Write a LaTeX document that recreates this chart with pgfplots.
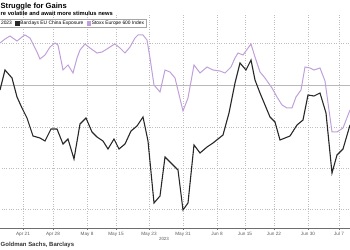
\documentclass[border=0pt]{standalone}
\usepackage{pgfplots}
\pgfplotsset{compat=1.18}
\usepackage{fontspec}
\setmainfont{Liberation Sans}
\definecolor{stoxx}{RGB}{192,160,218}
\definecolor{barc}{RGB}{40,40,40}
\definecolor{gridc}{RGB}{190,190,190}
\definecolor{axc}{RGB}{110,110,110}
\definecolor{tickc}{RGB}{90,90,90}
\begin{document}
\begin{tikzpicture}[x=1bp,y=1bp]
\path[use as bounding box, clip] (0,0) rectangle (350,250);
\begin{axis}[
  at={(-20,22)}, anchor=south west,
  scale only axis, width=380bp, height=213bp,
  xmin=-20, xmax=360, ymin=22, ymax=235,
  axis x line*=bottom, axis y line*=left,
  x axis line style={-, draw=axc, line width=0.6bp},
  y axis line style={draw=none},
  xtick={23,53,87,116,149,183,217,245,274,308,339},
  xticklabels={Apr 21,Apr 28,May 8,May 15,May 23,May 31,Jun 8,Jun 15,Jun 22,Jun 30,Jul 7},
  extra x ticks={-8}, extra x tick labels={},
  minor x tick num=4,
  tick align=outside,
  major tick length=2bp, minor tick length=1.3bp,
  x tick style={draw=axc, line width=0.5bp},
  x tick label style={font=\fontsize{4.7}{5}\selectfont, text=tickc, yshift=1bp},
  ytick={41,82,123,207}, yticklabels={},
  y tick style={draw=none},
  extra y ticks={165}, extra y tick labels={},
  extra y tick style={major grid style={solid, draw=gray!55, line width=0.6bp}},
  grid=major,
  major grid style={draw=gridc, dotted, line width=0.6bp},
  legend columns=-1,
  legend style={at={(0.05,0.981)}, anchor=north west,
    font=\fontsize{4.9}{5.5}\selectfont, draw=gray!70, line width=0.5bp, fill=white,
    inner xsep=1bp, inner ysep=0.8bp,
    nodes={inner sep=0.8bp},
    /tikz/every even column/.append style={column sep=2.5bp}},
  legend image code/.code={\fill[#1, draw=none] (0bp,-2.2bp) rectangle (4.4bp,2.2bp);},
]
\addlegendimage{empty legend}\addlegendentry{2023}
\addplot[barc, line width=1.1bp] coordinates {
(0,160)(5,180)(12,172)(17,153)(22,142)(27,132)(33,114)(40,112)(45,109)(51,121)(57,121)(63,106)(68,111)(74,91)(80,126)(86,132)(92,118)(97,113)(103,109)(108,101)(114,111)(119,101)(125,106)(131,119)(137,124)(143,133)(148,109)(154,47)(160,54)(165,93)(170,88)(175,83)(178,80)(183,40)(188,47)(194,105)(200,97)(207,103)(213,107)(218,111)(223,115)(229,137)(235,167)(240,187)(246,180)(251,190)(255,170)(260,157)(270,133)(275,128)(280,110)(290,114)(297,125)(303,130)(308,155)(314,154)(320,157)(326,137)(332,77)(337,95)(343,101)(350,125)
};
\addlegendentry{Barclays EU China Exposure}
\addplot[stoxx, line width=1bp] coordinates {
(0,207)(5,211)(10,214)(17,209)(22,213)(25,215)(30,212)(37,198)(40,191)(45,195)(50,203)(55,207)(58,205)(63,180)(68,185)(73,177)(77,192)(80,200)(85,206)(90,202)(97,197)(102,198)(107,201)(113,205)(115,206)(120,202)(125,197)(130,203)(135,212)(138,215)(143,215)(147,210)(150,192)(154,165)(160,158)(165,180)(170,178)(175,172)(183,139)(188,152)(194,185)(200,177)(207,183)(213,180)(220,179)(225,177)(231,183)(235,192)(238,197)(243,195)(251,206)(255,193)(260,178)(265,172)(272,162)(277,153)(282,145)(287,142)(292,142)(296,153)(301,160)(305,183)(310,182)(314,180)(320,182)(325,169)(332,118)(337,118)(343,122)(350,140)
};
\addlegendentry{Stoxx Europe 600 Index}
\end{axis}
\node[anchor=base west, inner sep=0, font=\fontsize{7.6}{8}\selectfont\bfseries] at (0.5,241.5) {Struggle for Gains};
\node[anchor=base west, inner sep=0, font=\fontsize{5.8}{6}\selectfont\bfseries] at (0.5,235) {re volatile and await more stimulus news};
\node[anchor=base, inner sep=0, font=\fontsize{4.5}{5}\selectfont, text=tickc] at (164,9.5) {2023};
\node[anchor=base west, inner sep=0, font=\fontsize{6}{6.5}\selectfont\bfseries, text=black!80] at (0.5,4) {Goldman Sachs, Barclays};
\end{tikzpicture}
\end{document}
